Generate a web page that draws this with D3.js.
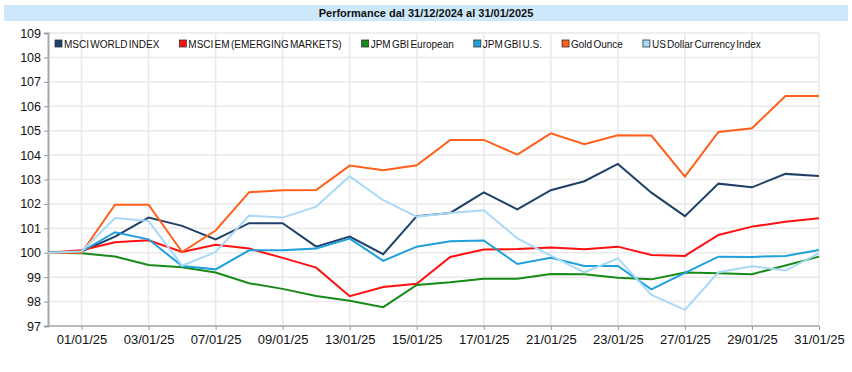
<!DOCTYPE html>
<html lang="it">
<head>
<meta charset="UTF-8">
<title>Performance</title>
<script src="https://cdn.jsdelivr.net/npm/d3@7"></script>
<style>
  body { margin: 0; background: #fff; }
  text { font-family: "Liberation Sans", Arial, sans-serif; }
</style>
</head>
<body>
<svg class="root"></svg>
<script>
const dates = ["31/12/24","01/01/25","02/01/25","03/01/25","06/01/25","07/01/25","08/01/25","09/01/25",
  "10/01/25","13/01/25","14/01/25","15/01/25","16/01/25","17/01/25","20/01/25","21/01/25",
  "22/01/25","23/01/25","24/01/25","27/01/25","28/01/25","29/01/25","30/01/25","31/01/25"];

const msciWorld = [100,100.05,100.66,101.44,101.1,100.55,101.21,101.21,100.25,100.66,99.94,101.5,
  101.63,102.47,101.78,102.56,102.93,103.64,102.46,101.5,102.83,102.68,103.23,103.14];
const msciEm = [100,100.1,100.43,100.51,100.03,100.33,100.17,99.79,99.39,98.22,98.6,98.73,
  99.83,100.13,100.15,100.21,100.14,100.25,99.91,99.87,100.73,101.07,101.27,101.41];
const jpmEur = [100,99.98,99.85,99.5,99.41,99.19,98.75,98.52,98.23,98.03,97.77,98.68,
  98.79,98.94,98.94,99.13,99.12,98.98,98.91,99.19,99.16,99.12,99.48,99.84];
const jpmUs = [100,100.05,100.84,100.55,99.46,99.32,100.1,100.1,100.17,100.58,99.67,100.25,
  100.47,100.5,99.54,99.79,99.46,99.46,98.5,99.18,99.84,99.83,99.87,100.11];
const gold = [100,100.0,101.97,101.97,100.03,100.91,102.48,102.56,102.57,103.57,103.38,103.58,
  104.62,104.62,104.02,104.89,104.45,104.81,104.8,103.12,104.95,105.1,106.42,106.42];
const usd = [100,100.05,101.42,101.3,99.47,100.03,101.52,101.44,101.89,103.13,102.15,101.48,
  101.63,101.74,100.59,99.88,99.2,99.77,98.27,97.66,99.2,99.45,99.27,99.98];

const seriesNames = ["MSCI WORLD INDEX","MSCI EM (EMERGING MARKETS)","JPM GBI European","JPM GBI U.S.","Gold Ounce","US Dollar Currency Index"];
const seriesValues = [msciWorld, msciEm, jpmEur, jpmUs, gold, usd];
const seriesColors = ["#1f4068","#ff1010","#178a17","#1fa0dc","#ff5f1a","#a8d9f7"];
const yTicks = d3.range(97, 110);
const title = "Performance dal 31/12/2024 al 31/01/2025";

const width = 852, height = 372;
const margin = {top: 33, right: 33, bottom: 46, left: 48};

const svg = d3.select(".root").attr("width", width).attr("height", height);

// title band
svg.append("rect")
  .attr("x", 4).attr("y", 5).attr("width", 844).attr("height", 16)
  .attr("fill", "#cde8fa");
svg.append("text")
  .attr("x", width / 2).attr("y", 17)
  .attr("text-anchor", "middle")
  .attr("font-size", 11).attr("font-weight", "bold").attr("fill", "#111")
  .text(title);

const x = d3.scalePoint().domain(dates).range([margin.left, width - margin.right]);
const y = d3.scaleLinear().domain([97, 109]).range([height - margin.bottom, margin.top]);
const labelDates = dates.filter((d, i) => i % 2 === 1);

// grid
const grid = svg.append("g").attr("stroke", "#e9e9e9").attr("stroke-width", 1.5);
grid.selectAll(".h").data(yTicks).join("line")
  .attr("x1", margin.left).attr("x2", width - margin.right)
  .attr("y1", d => y(d)).attr("y2", d => y(d));
grid.selectAll(".v").data(labelDates).join("line")
  .attr("x1", d => x(d)).attr("x2", d => x(d))
  .attr("y1", margin.top).attr("y2", height - margin.bottom);

// axes
const yAxis = svg.append("g")
  .attr("transform", `translate(${margin.left},0)`)
  .call(d3.axisLeft(y).tickValues(yTicks).tickSize(4).tickPadding(3).tickFormat(d3.format("d")))
  .call(g => g.select(".domain").attr("stroke", "#a8a8a8").attr("stroke-width", 2));
yAxis.selectAll(".tick line").attr("stroke", "#999");
yAxis.selectAll(".tick text").attr("font-size", 12.5).attr("fill", "#111")
  .attr("font-family", "Liberation Sans, Arial, sans-serif");

const xAxis = svg.append("g")
  .attr("transform", `translate(0,${height - margin.bottom})`)
  .call(d3.axisBottom(x).tickValues(labelDates).tickSize(4).tickPadding(5))
  .call(g => g.select(".domain").attr("stroke", "#a8a8a8").attr("stroke-width", 1.5).attr("d", `M${margin.left},0H${width - margin.right}`));
xAxis.selectAll(".tick line").attr("stroke", "#999");
xAxis.selectAll(".tick text").attr("font-size", 13).attr("fill", "#111")
  .attr("font-family", "Liberation Sans, Arial, sans-serif");

// lines
const line = d3.line().x((d, i) => x(dates[i])).y(d => y(d));
svg.append("g").selectAll("path").data(seriesValues).join("path")
  .attr("fill", "none")
  .attr("stroke", (d, i) => seriesColors[i])
  .attr("stroke-width", 2)
  .attr("stroke-linejoin", "miter")
  .attr("d", line);

// legend
const legend = svg.append("g").attr("transform", "translate(55,44)");
let lx = 0;
seriesNames.forEach((name, i) => {
  const item = legend.append("g").attr("transform", `translate(${lx},0)`);
  item.append("rect").attr("x", 0).attr("y", -4).attr("width", 7).attr("height", 7)
    .attr("fill", seriesColors[i]).attr("stroke", "#333").attr("stroke-width", 0.8);
  const t = item.append("text").attr("x", 9).attr("y", 3.5)
    .attr("font-size", 10).attr("fill", "#111").attr("word-spacing", -1.5)
    .text(name);
  lx += 9 + t.node().getComputedTextLength() + 20;
});
</script>
</body>
</html>
